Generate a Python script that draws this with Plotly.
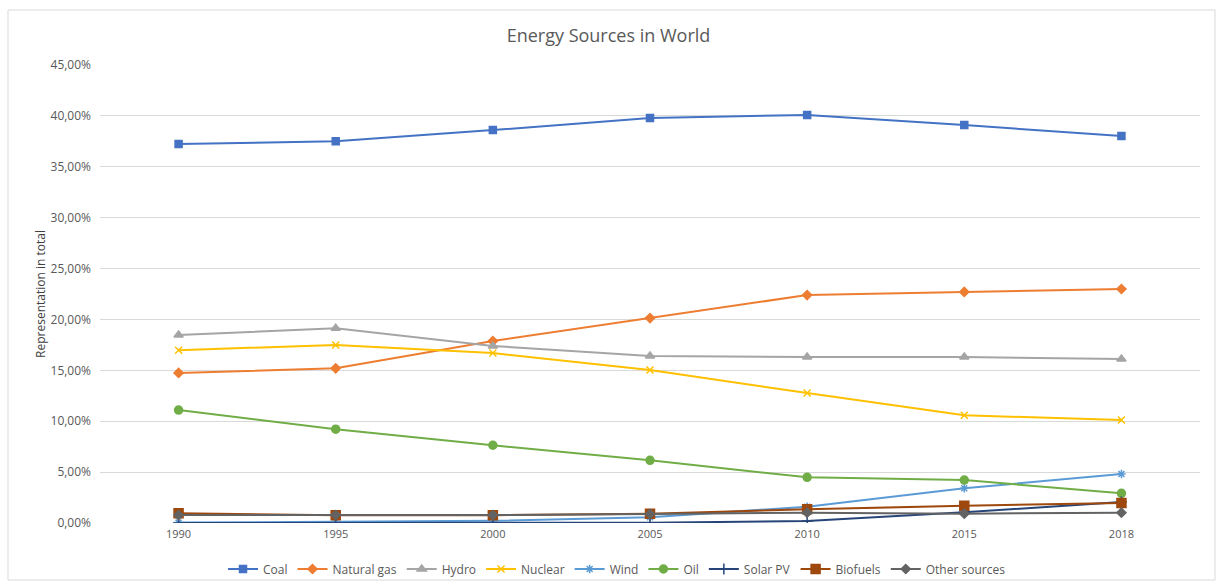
import numpy as np
import plotly.graph_objects as go

years = ["1990", "1995", "2000", "2005", "2010", "2015", "2018"]

# Share of each source in total (percent)
coal = [37.24, 37.50, 38.61, 39.79, 40.09, 39.10, 38.02]
natural_gas = [14.74, 15.20, 17.88, 20.14, 22.40, 22.70, 22.99]
hydro = [18.47, 19.14, 17.39, 16.41, 16.31, 16.31, 16.11]
nuclear = [16.98, 17.49, 16.70, 15.03, 12.77, 10.58, 10.12]
wind = [0.04, 0.10, 0.22, 0.56, 1.60, 3.41, 4.81]
oil = [11.10, 9.22, 7.64, 6.16, 4.49, 4.22, 2.92]
solar_pv = [0.00, 0.01, 0.01, 0.02, 0.20, 1.05, 2.06]
biofuels = [0.95, 0.76, 0.76, 0.92, 1.34, 1.70, 1.96]
other_sources = [0.78, 0.78, 0.78, 0.88, 1.01, 0.92, 1.01]

series = [
    ("Coal", coal, "#4472C4", "square", 7),
    ("Natural gas", natural_gas, "#ED7D31", "diamond", 7),
    ("Hydro", hydro, "#A5A5A5", "triangle-up", 8),
    ("Nuclear", nuclear, "#FFC000", "x-thin-open", 7),
    ("Wind", wind, "#5B9BD5", "asterisk-open", 7),
    ("Oil", oil, "#70AD47", "circle", 8),
    ("Solar PV", solar_pv, "#264478", "cross-thin-open", 8),
    ("Biofuels", biofuels, "#9E480E", "square", 9),
    ("Other sources", other_sources, "#636363", "diamond", 7),
]

fig = go.Figure()
for name, vals, color, symbol, size in series:
    fig.add_trace(go.Scatter(
        x=years,
        y=np.array(vals) / 100.0,
        name=name,
        mode="lines+markers",
        line=dict(color=color, width=2),
        marker=dict(symbol=symbol, size=size, color=color,
                    line=dict(color=color, width=1.5)),
    ))

W, H = 1217, 583
ml, mr, mt, mb = 100, 17, 65, 60
pw, ph = W - ml - mr, H - mt - mb

fig.update_layout(
    width=W, height=H,
    margin=dict(l=ml, r=mr, t=mt, b=mb, autoexpand=False),
    paper_bgcolor="white",
    plot_bgcolor="white",
    separators=", ",
    font=dict(family="Open Sans, Liberation Sans, sans-serif", size=12, color="#595959"),
    title=dict(text="Energy Sources in World", x=0.5, xanchor="center",
               y=1 - 36 / H, yanchor="middle",
               font=dict(size=18, color="#595959")),
    xaxis=dict(type="category", range=[-0.5, 6.5], showgrid=False,
               showline=False, zeroline=False, ticks="",
               ticklabelstandoff=3,
               tickfont=dict(size=11, color="#595959")),
    yaxis=dict(range=[0, 0.45], dtick=0.05, tickformat=".2%",
               showgrid=True, gridcolor="#D9D9D9", gridwidth=1,
               zeroline=False, showline=False, ticks="",
               ticklabelstandoff=8,
               title=dict(text="Representation in total", standoff=2,
                          font=dict(size=12, color="#404040")),
               tickfont=dict(size=12, color="#595959")),
    legend=dict(orientation="h",
                xref="container", x=617 / W, xanchor="center",
                yref="container", y=(H - 569) / H, yanchor="middle",
                bgcolor="rgba(0,0,0,0)",
                font=dict(size=12, color="#595959"),
                itemwidth=30, tracegroupgap=0),
    showlegend=True,
)

# chart border
fig.add_shape(type="rect", xref="paper", yref="paper",
              x0=(8 - ml) / pw, x1=(1215 - ml) / pw,
              y0=-(580 - (H - mb)) / ph, y1=1 + (mt - 10) / ph,
              line=dict(color="#D9D9D9", width=1), layer="below")

fig.write_html("out.html")
